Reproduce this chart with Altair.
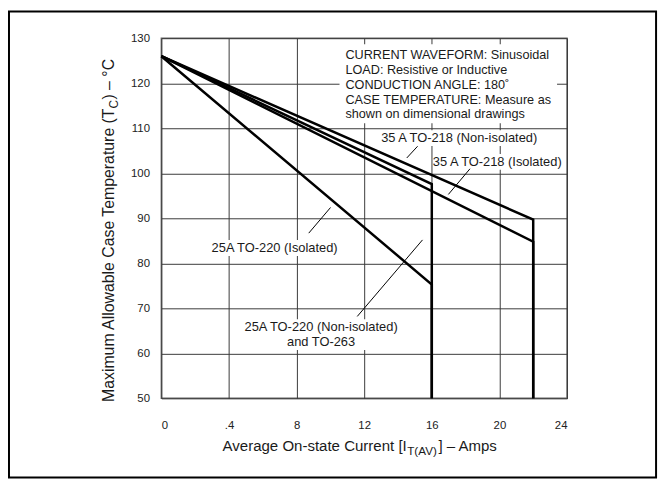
import altair as alt
import pandas as pd

# ---------------- data ----------------
x_ticks = [0, 4, 8, 12, 16, 20, 24]
x_tick_labels = ["0", ".4", "8", "12", "16", "20", "24"]
y_ticks = [50, 60, 70, 80, 90, 100, 110, 120, 130]

iso25_current = [0, 16, 16]
iso25_temp = [126, 75.3, 50]
noniso25_current = [0, 16, 16]
noniso25_temp = [126, 97.6, 50]
iso35_current = [0, 22, 22]
iso35_temp = [126, 84.8, 50]
noniso35_current = [0, 22, 22]
noniso35_temp = [126, 89.7, 50]

curve_names = ["25A TO-220 (Isolated)", "25A TO-220 (Non-isolated) and TO-263",
               "35 A TO-218 (Isolated)", "35 A TO-218 (Non-isolated)"]
curve_currents = [iso25_current, noniso25_current, iso35_current, noniso35_current]
curve_temps = [iso25_temp, noniso25_temp, iso35_temp, noniso35_temp]

# curve labels (text, x, y)
label_texts = ["35 A TO-218 (Non-isolated)", "35 A TO-218 (Isolated)",
               "25A TO-220 (Isolated)", "25A TO-220 (Non-isolated)", "and TO-263"]
label_x = [17.62, 19.87, 6.70, 9.45, 9.45]
label_y = [107.8, 102.5, 83.4, 65.8, 62.5]

# white boxes behind texts (x0, x1, y0, y1)
box_x0 = [12.88, 16.07, 2.93, 4.92, 10.54]
box_x1 = [22.36, 23.82, 10.48, 13.99, 23.41]
box_y0 = [109.56, 104.29, 85.16, 67.58, 128.68]
box_y1 = [106.04, 100.77, 81.65, 60.77, 111.10]

# pointer lines
ptr_x0 = [14.52, 16.98, 8.72, 11.59]
ptr_x1 = [15.16, 18.26, 10.01, 15.45]
ptr_y0 = [103.4, 95.3, 86.7, 68.2]
ptr_y1 = [106.0, 101.0, 92.4, 85.2]

info_lines = ["CURRENT WAVEFORM: Sinusoidal", "LOAD: Resistive or Inductive",
              "CONDUCTION ANGLE: 180˚", "CASE TEMPERATURE: Measure as",
              "shown on dimensional drawings"]
info_x = 10.89
info_y = [126.26, 122.97, 119.67, 116.37, 113.08]

# ---------------- tables ----------------
rows = []
for name, cs, ts in zip(curve_names, curve_currents, curve_temps):
    for i, (c, t) in enumerate(zip(cs, ts)):
        rows.append({"curve": name, "current": c, "temp": t, "order": i})
lines_df = pd.DataFrame(rows)
labels_df = pd.DataFrame({"text": label_texts, "x": label_x, "y": label_y})
boxes_df = pd.DataFrame({"x0": box_x0, "x1": box_x1, "y0": box_y0, "y1": box_y1})
ptr_df = pd.DataFrame({"x0": ptr_x0, "x1": ptr_x1, "y0": ptr_y0, "y1": ptr_y1})
info_df = pd.DataFrame({"text": info_lines, "x": [info_x] * len(info_lines), "y": info_y})

FONT = "Liberation Sans"
TXT = "#1a1a1a"

expr = "''"
for v, lab in zip(reversed(x_ticks), reversed(x_tick_labels)):
    expr = f"datum.value == {v} ? '{lab}' : ({expr})"

xscale = alt.Scale(domain=[0, 24], nice=False, zero=False)
yscale = alt.Scale(domain=[50, 130], nice=False, zero=False)
xaxis = alt.Axis(values=x_ticks, labelExpr=expr, grid=True, ticks=False, domain=False,
                 labelPadding=21, title=None)
yaxis = alt.Axis(values=y_ticks, grid=True, ticks=False, domain=False,
                 labelPadding=12, title=None)


def X(f):
    return alt.X(f, type="quantitative", scale=xscale, axis=xaxis)


def Y(f):
    return alt.Y(f, type="quantitative", scale=yscale, axis=yaxis)


boxes = alt.Chart(boxes_df).mark_rect(fill="white", stroke=None).encode(
    x=X("x0"), x2="x1", y=Y("y0"), y2="y1")

lines = alt.Chart(lines_df).mark_line(color="black", strokeWidth=2.5, strokeJoin="miter").encode(
    x=X("current"), y=Y("temp"), detail="curve:N", order="order:Q")

labels = alt.Chart(labels_df).mark_text(font=FONT, fontSize=13, color=TXT,
                                        align="center", baseline="middle").encode(
    x=X("x"), y=Y("y"), text="text:N")

pointers = alt.Chart(ptr_df).mark_rule(color="black", strokeWidth=1).encode(
    x=X("x0"), x2="x1", y=Y("y0"), y2="y1")

info = alt.Chart(info_df).mark_text(font=FONT, fontSize=12.8, color=TXT,
                                    align="left", baseline="middle").encode(
    x=X("x"), y=Y("y"), text="text:N")

one = pd.DataFrame({"a": [0]})


def ptext(txt, x, y, size, align, angle=0, dy=0):
    kw = dict(font=FONT, fontSize=size, color=TXT, align=align, baseline="alphabetic", text=txt)
    if angle:
        kw["angle"] = angle
    if dy:
        kw["dy"] = dy
    return alt.Chart(one).mark_text(**kw).encode(x=alt.value(x), y=alt.value(y))


# x title with subscript
xt_j = 248
xt_b = 417
xt1 = ptext("Average On-state Current [I", xt_j, xt_b, 15.2, "right")
xt2 = ptext("T(AV)", xt_j + 0.5, xt_b, 11.8, "left", dy=4)
xt3 = ptext("] – Amps", xt_j + 32, xt_b, 15.2, "left")

# y title with subscript (rotated)
yt_x = -48
yt_j = 71
yt1 = ptext("Maximum Allowable Case Temperature (T", yt_x, yt_j, 16, "right", angle=270)
yt2 = ptext("C", yt_x, yt_j, 12, "left", angle=270, dy=4)
yt3 = ptext(") – °C", yt_x, yt_j - 9, 16, "left", angle=270)

frame = alt.Chart(one).mark_rect(fill=None, stroke="black", strokeWidth=2).encode(
    x=alt.value(-154), x2=alt.value(500), y=alt.value(-27), y2=alt.value(444))

chart = alt.layer(boxes, lines, labels, pointers, info,
                  xt1, xt2, xt3, yt1, yt2, yt3, frame).properties(
    width=410, height=364,
    autosize=alt.AutoSizeParams(type="none"),
    padding={"left": 155, "top": 28, "right": 96, "bottom": 83},
).configure_view(stroke="#666", strokeWidth=1.5).configure_axis(
    gridColor="#3a3a3a", gridOpacity=1, gridWidth=1,
    labelFont=FONT, labelFontSize=11.5, labelColor="#222",
)

chart.save("out.html", embed_options={"renderer": "svg", "actions": False})
